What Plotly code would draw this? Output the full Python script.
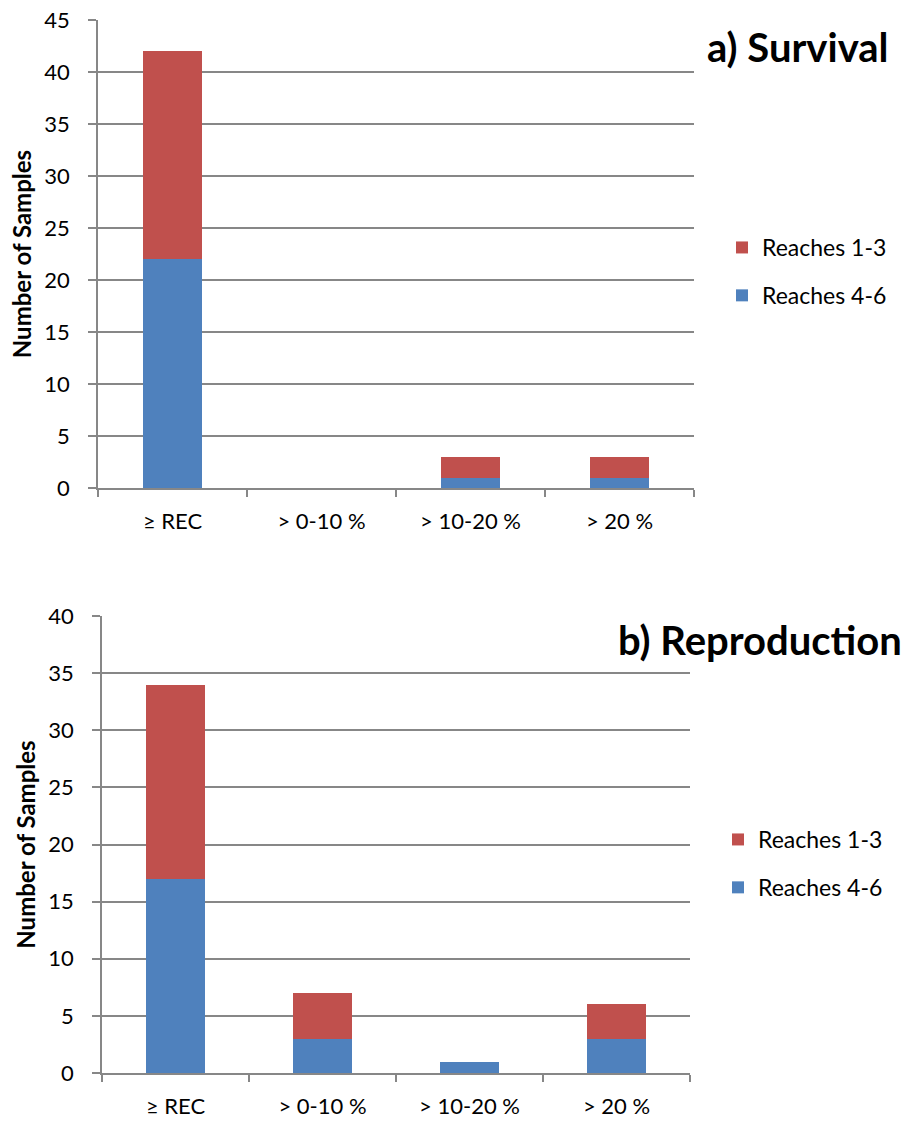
import plotly.graph_objects as go

categories = ["≥ REC", "> 0-10 %", "> 10-20 %", "> 20 %"]
surv_r46 = [22, 0, 1, 1]
surv_r13 = [20, 0, 2, 2]
repr_r46 = [17, 3, 1, 3]
repr_r13 = [17, 4, 0, 3]

RED = "#C0504D"
BLUE = "#4F81BD"
GRID = "#878787"
FONT = "Lato"

fig = go.Figure()
fig.add_bar(x=categories, y=surv_r46, name="Reaches 4-6", marker_color=BLUE,
            marker_line_width=0, xaxis="x", yaxis="y",
            legend="legend", legendgroup="a2", legendrank=2)
fig.add_bar(x=categories, y=surv_r13, name="Reaches 1-3", marker_color=RED,
            marker_line_width=0, xaxis="x", yaxis="y",
            legend="legend", legendgroup="a1", legendrank=1)
fig.add_bar(x=categories, y=repr_r46, name="Reaches 4-6", marker_color=BLUE,
            marker_line_width=0, xaxis="x2", yaxis="y2",
            legend="legend2", legendgroup="b2", legendrank=2)
fig.add_bar(x=categories, y=repr_r13, name="Reaches 1-3", marker_color=RED,
            marker_line_width=0, xaxis="x2", yaxis="y2",
            legend="legend2", legendgroup="b1", legendrank=1)

W, H = 908, 1122

def px(x):
    return x / W

def py(y):
    return 1 - y / H

xcommon = dict(type="category", tickson="boundaries", ticks="outside", ticklen=7,
               tickcolor=GRID, tickwidth=1.5, showline=True, linecolor=GRID, linewidth=1.5,
               showgrid=False, tickfont=dict(family=FONT, size=22, color="#000"),
               ticklabelstandoff=13, automargin=False, fixedrange=True)
ycommon = dict(ticks="outside", ticklen=8, tickcolor=GRID, tickwidth=1.5,
               showline=True, linecolor=GRID, linewidth=1.5, showgrid=True,
               gridcolor=GRID, gridwidth=1.5, zeroline=False, dtick=5,
               automargin=False, fixedrange=True,
               tickfont=dict(family=FONT, size=22, color="#000"), ticklabelstandoff=14,
               title=dict(text="<b>Number of Samples</b>", font=dict(family=FONT, size=24, color="#000"),
                          standoff=6))

fig.update_layout(
    width=W, height=H, margin=dict(l=0, r=0, t=0, b=0),
    plot_bgcolor="white", paper_bgcolor="white",
    barmode="stack", bargap=0.6,
    xaxis=dict(domain=[px(98), px(694)], anchor="y", **xcommon),
    yaxis=dict(domain=[py(488), py(20)], range=[0, 45], anchor="x", **ycommon),
    xaxis2=dict(domain=[px(102), px(690)], anchor="y2", **xcommon),
    yaxis2=dict(domain=[py(1073), py(616)], range=[0, 40], anchor="x2", **ycommon),
    legend=dict(x=px(722), y=py(226), xanchor="left", yanchor="top",
                traceorder="grouped", tracegroupgap=15,
                font=dict(family=FONT, size=23, color="#000"), itemwidth=30,
                bgcolor="rgba(0,0,0,0)"),
    legend2=dict(x=px(718), y=py(818), xanchor="left", yanchor="top",
                 traceorder="grouped", tracegroupgap=15,
                 font=dict(family=FONT, size=23, color="#000"), itemwidth=30,
                 bgcolor="rgba(0,0,0,0)"),
    annotations=[
        dict(text="<b>a) Survival</b>", x=px(891), y=py(47), xref="paper", yref="paper",
             xanchor="right", yanchor="middle", showarrow=False,
             font=dict(family=FONT, size=40, color="#000")),
        dict(text="<b>b) Reproduction</b>", x=px(904), y=py(640), xref="paper", yref="paper",
             xanchor="right", yanchor="middle", showarrow=False,
             font=dict(family=FONT, size=40, color="#000")),
    ],
)

fig.write_html("out.html")
